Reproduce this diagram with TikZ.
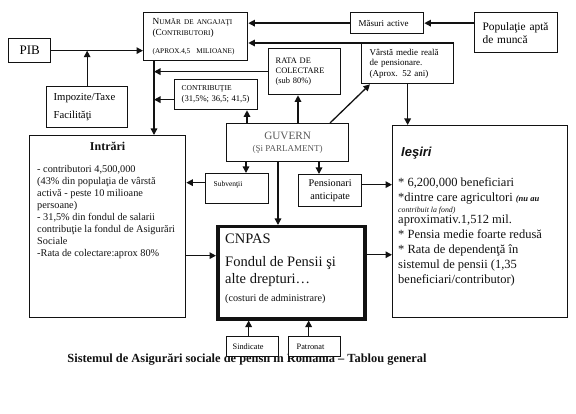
\documentclass[tikz,border=0pt]{standalone}
\usepackage{fontspec}
\setmainfont{Liberation Serif}
\newfontfamily\arialfont{Liberation Sans}
\usetikzlibrary{arrows.meta,positioning}
\definecolor{psInk}{RGB}{18,18,18}
\definecolor{psGrey}{RGB}{90,90,90}
\newcommand{\fakesc}[1]{{\fontsize{7.2}{8}\selectfont #1}}

\begin{document}
\begin{tikzpicture}[x=1pt,y=-1pt,
  box/.style={draw=psInk,fill=white,line width=1.3pt,anchor=north west,inner sep=0pt},
  txt/.style={inner sep=0pt,align=left,text=psInk},
  link/.style={draw=psInk,line width=1.3pt,-{Triangle[length=6.5pt,width=6.5pt]}}]
\useasboundingbox (0,0) rectangle (576,414);

% caption (boxes below cover its top)
\node[font=\fontsize{12.4}{14}\selectfont\bfseries,text=psInk] (caption) at (247,359)
  {Sistemul de Asigurări sociale de pensii în România – Tablou general};

% top row
\node[box,minimum width=42pt,minimum height=24pt,font=\fontsize{13}{15}\selectfont] (pib) at (8,38) {PIB};
\node[box,minimum width=81pt,minimum height=41pt,inner xsep=7pt,text width=67pt,align=left,
  font=\fontsize{10.7}{12}\selectfont] (impozite) at (46,86) {Impozite/Taxe\\[6pt]Facilităţi};
\node[box,minimum width=104pt,minimum height=48pt,inner xsep=9pt,text width=86pt,align=left,
  font=\fontsize{9.3}{11}\selectfont] (numar) at (143,12)
  {N\fakesc{UMĂR DE ANGAJAŢI}\\(C\fakesc{ONTRIBUTORI})\\[7pt]\fakesc{(APROX.4,5 \ MILIOANE)}};
\node[box,minimum width=73pt,minimum height=21pt,inner xsep=8pt,text width=57pt,align=left,
  font=\fontsize{9}{10}\selectfont] (masuri) at (350,12) {Măsuri active};
\node[box,minimum width=83pt,minimum height=40pt,inner xsep=8pt,text width=67pt,align=left,
  font=\fontsize{11.4}{13}\selectfont] (populatie) at (474,12) {Populaţie aptă\\de muncă};
\node[box,minimum width=92pt,minimum height=40pt,inner xsep=8pt,text width=76pt,align=left,
  font=\fontsize{9}{10.5}\selectfont] (varsta) at (361,43)
  {Vârstă medie reală\\de pensionare.\\(Aprox. 52 ani)};
\node[box,minimum width=72pt,minimum height=46pt,inner xsep=7pt,text width=58pt,align=left,
  font=\fontsize{8.4}{10}\selectfont] (rata) at (268,48) {RATA DE\\COLECTARE\\(sub 80\%)};
\node[box,minimum width=83pt,minimum height=30pt,inner xsep=7pt,text width=69pt,align=left,
  font=\fontsize{7.5}{10.5}\selectfont] (contrib) at (174,79)
  {CONTRIBUŢIE\\\mbox{\fontsize{8.6}{10}\selectfont(31,5\%; 36,5; 41,5)}};

% middle
\node[box,minimum width=122pt,minimum height=38pt,align=center,text=psGrey,
  font=\fontsize{11.2}{12}\selectfont] (guvern) at (226,123)
  {GUVERN\\{\fontsize{9}{10}\selectfont (Şi PARLAMENT)}};
\node[box,minimum width=63pt,minimum height=30pt,inner xsep=8pt,text width=47pt,align=left,
  font=\fontsize{7.5}{9}\selectfont] (subventii) at (205,173) {Subvenţii\\[-3pt]\strut};
\node[box,minimum width=63pt,minimum height=32pt,align=center,
  font=\fontsize{10.2}{13}\selectfont] (pensionari) at (298,174) {Pensionari\\anticipate};

% big panels
\node[box,minimum width=156pt,minimum height=182pt] (intrari) at (29,135) {};
\node[box,minimum width=175pt,minimum height=192pt] (iesiri) at (392,125) {};
\node[box,line width=3.5pt,minimum width=147pt,minimum height=92pt] (cnpas) at (216,225) {};

\node[txt,anchor=north,font=\fontsize{12}{14}\selectfont\bfseries,below=7pt of intrari.north] (intrari-title) {Intrări};
\node[txt,anchor=north west,font=\fontsize{10.3}{12}\selectfont,below right=30pt and 8pt of intrari.north west] (intrari-text)
  {- contributori 4,500,000\\
   (43\% din populaţia de vârstă\\
   activă - peste 10 milioane\\
   persoane)\\
   - 31,5\% din fondul de salarii\\
   contribuţie la fondul de Asigurări\\
   Sociale\\
   -Rata de colectare:aprox 80\%};

\node[txt,anchor=north west,font=\arialfont\fontsize{13}{15}\selectfont\bfseries\itshape,below right=22pt and 9pt of iesiri.north west] (iesiri-title) {Ieşiri};
\node[txt,anchor=north west,font=\fontsize{12.5}{15}\selectfont,below right=52pt and 6pt of iesiri.north west] (iesiri-text)
  {* 6,200,000 beneficiari\\
   *dintre care agricultori {\fontsize{8.5}{9}\selectfont\bfseries\itshape (nu au}\\[-4pt]
   {\fontsize{7.8}{9}\selectfont\itshape contribuit la fond)}\\[-4pt]
   aproximativ.1,512 mil.\\
   * Pensia medie foarte redusă\\
   * Rata de dependenţă în\\
   sistemul de pensii (1,35\\
   beneficiari/contributor)};

\node[txt,anchor=north west,font=\fontsize{14.5}{17}\selectfont,below right=9pt and 9pt of cnpas.north west] (cnpas-text)
  {{\fontsize{14.5}{15}\selectfont CNPAS}\\[6pt]
   Fondul de Pensii şi\\
   alte drepturi…\\[1pt]
   {\fontsize{10.2}{10}\selectfont (costuri de administrare)}};

% bottom
\node[box,minimum width=52pt,minimum height=20pt,inner xsep=6pt,text width=40pt,align=left,
  font=\fontsize{8.3}{9}\selectfont] (sindicate) at (226,336) {Sindicate};
\node[box,minimum width=52pt,minimum height=20pt,inner xsep=8pt,text width=36pt,align=left,
  font=\fontsize{8.3}{9}\selectfont] (patronat) at (288,336) {Patronat};

% connectors
\coordinate (trunk) at ([xshift=11pt]numar.south west);
\draw[link] (pib.east) -- (pib.east -| numar.west);
\draw[link] (impozite.north) -- (impozite.north |- pib.east);
\draw[link] (masuri.east -| populatie.west) -- (masuri.east);
\draw[link] (masuri.west) -- (masuri.west -| numar.east);
\draw[link] (varsta.north east) -- (varsta.north east -| numar.east);
\draw[link] (varsta.south) -- (varsta.south |- iesiri.north);
\draw[link] (trunk) -- (trunk |- intrari.north);
\draw[link] (rata.west) -- (rata.west -| trunk);
\draw[link] ([yshift=-5pt]contrib.west) -- ([yshift=-5pt]contrib.west -| trunk);
\draw[link] ([xshift=21pt]guvern.north west) -- ([xshift=21pt]guvern.north west |- contrib.south);
\draw[link] ([xshift=72pt]guvern.north west) -- ([xshift=72pt]guvern.north west |- rata.south);
\draw[link] ([xshift=104pt]guvern.north west) -- ([xshift=9pt]varsta.south west);
\draw[link] ([xshift=20pt]guvern.south west) -- ([xshift=20pt]guvern.south west |- subventii.north);
\draw[link] ([xshift=93pt]guvern.south west) -- ([xshift=93pt]guvern.south west |- pensionari.north);
\draw[link] ([xshift=52pt]guvern.south west) -- ([xshift=52pt]guvern.south west |- cnpas.north);
\draw[link] ([yshift=6pt]subventii.west) -- ([yshift=6pt]subventii.west -| intrari.east);
\draw[link] ([yshift=6pt]pensionari.east) -- ([yshift=6pt]pensionari.east -| iesiri.west);
\draw[link] ([yshift=-29pt]intrari.east) -- ([yshift=-29pt]intrari.east -| cnpas.west);
\draw[link] ([yshift=18pt]cnpas.east) -- ([yshift=18pt]cnpas.east -| iesiri.west);
\draw[link] ([xshift=-4pt]sindicate.north) -- ([xshift=-4pt]sindicate.north |- cnpas.south);
\draw[link] ([xshift=-6pt]patronat.north) -- ([xshift=-6pt]patronat.north |- cnpas.south);
\end{tikzpicture}
\end{document}
